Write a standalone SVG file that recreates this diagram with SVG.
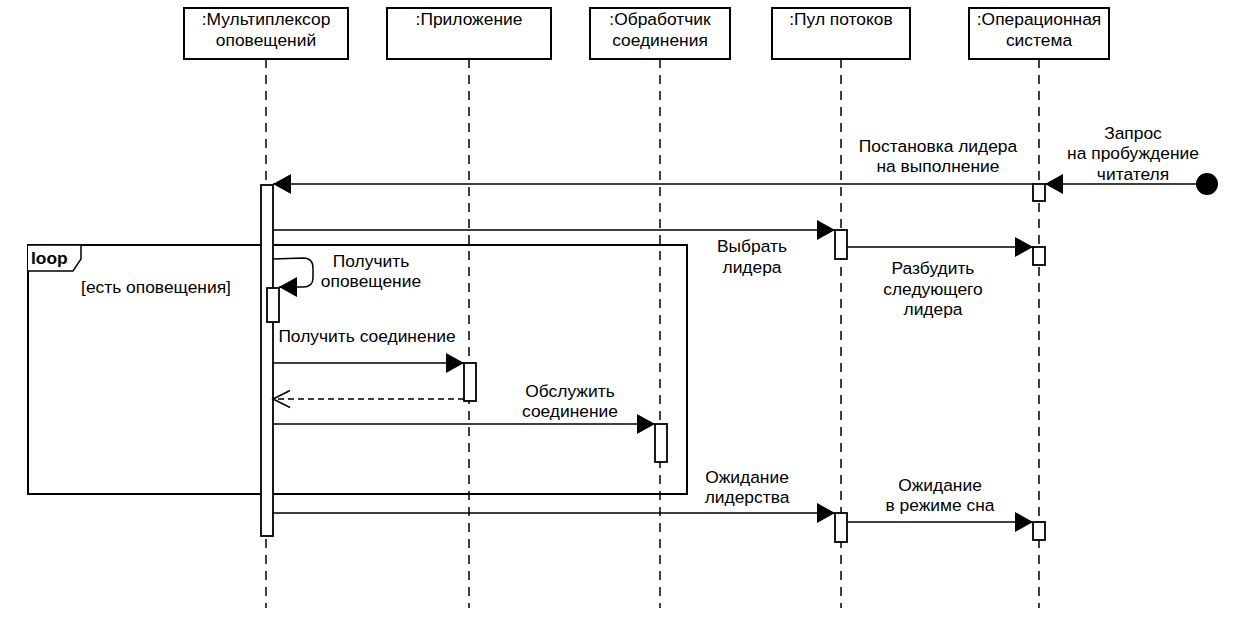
<svg xmlns="http://www.w3.org/2000/svg" width="1255" height="631" viewBox="0 0 1255 631">
<defs>
<style>
text{font-family:"Liberation Sans",Arial,sans-serif;font-size:17.4px;fill:#000;text-anchor:middle}
.box{fill:#fff;stroke:#000;stroke-width:2}
.life{stroke:#000;stroke-width:1.5;stroke-dasharray:9 7;fill:none}
.bar{fill:#fff;stroke:#000;stroke-width:1.8}
.msg{stroke:#000;stroke-width:1.5;fill:none;marker-end:url(#block)}
.ret{stroke:#000;stroke-width:1.5;fill:none;stroke-dasharray:6 4;marker-end:url(#open)}
.frame{fill:none;stroke:#000;stroke-width:2}
</style>
<marker id="block" markerUnits="userSpaceOnUse" viewBox="0 0 18 20" refX="18" refY="10" markerWidth="18" markerHeight="20" orient="auto">
<path d="M0,0 L18,10 L0,20 z" fill="#000"/>
</marker>
<marker id="open" markerUnits="userSpaceOnUse" viewBox="0 0 20 20" refX="18" refY="10" markerWidth="20" markerHeight="20" orient="auto">
<path d="M1,1.5 L18,10 L1,18.5" fill="none" stroke="#000" stroke-width="1.5"/>
</marker>
</defs>
<rect width="1255" height="631" fill="#fff"/>

<g id="lifelines">
<line class="life" x1="266" y1="59" x2="266" y2="608"/>
<line class="life" x1="469" y1="59" x2="469" y2="608"/>
<line class="life" x1="660" y1="59" x2="660" y2="608"/>
<line class="life" x1="841" y1="59" x2="841" y2="608"/>
<line class="life" x1="1039" y1="59" x2="1039" y2="608"/>
</g>

<g id="loop-frame">
<rect class="frame" x="28" y="245" width="659" height="249"/>
<path d="M28,245 L81,245 L81,259 L73,271 L28,271" fill="#fff" stroke="#000" stroke-width="1.5"/>
<text x="31" y="264" style="text-anchor:start;font-weight:bold">loop</text>
<text x="156" y="293">[есть оповещения]</text>
</g>

<g id="node-multiplexer">
<rect class="box" x="184" y="8" width="164" height="51"/>
<text x="266" y="25">:Мультиплексор</text>
<text x="266" y="46">оповещений</text>
<rect class="bar" x="261" y="185" width="12" height="351"/>
<rect class="bar" x="267" y="288" width="12" height="34"/>
</g>

<g id="node-app">
<rect class="box" x="387" y="8" width="164" height="51"/>
<text x="469" y="25">:Приложение</text>
<rect class="bar" x="464" y="363" width="12" height="38"/>
</g>

<g id="node-handler">
<rect class="box" x="590" y="8" width="140" height="51"/>
<text x="660" y="25">:Обработчик</text>
<text x="660" y="46">соединения</text>
<rect class="bar" x="655" y="424" width="12" height="38"/>
</g>

<g id="node-pool">
<rect class="box" x="772" y="8" width="138" height="51"/>
<text x="841" y="25">:Пул потоков</text>
<rect class="bar" x="835" y="230" width="12" height="29"/>
<rect class="bar" x="835" y="513" width="12" height="29"/>
</g>

<g id="node-os">
<rect class="box" x="969" y="8" width="140" height="51"/>
<text x="1039" y="25">:Операционная</text>
<text x="1039" y="46">система</text>
<rect class="bar" x="1033" y="184" width="12" height="17"/>
<rect class="bar" x="1033" y="247" width="12" height="18"/>
<rect class="bar" x="1033" y="522" width="12" height="18"/>
</g>

<g id="connectors">
<circle cx="1207" cy="184" r="11" fill="#000"/>
<line class="msg" x1="1196" y1="184" x2="1045" y2="184"/>
<line class="msg" x1="1033" y1="184" x2="273" y2="184"/>
<line class="msg" x1="273" y1="230" x2="835" y2="230"/>
<line class="msg" x1="847" y1="247" x2="1033" y2="247"/>
<path class="msg" d="M273,259 L303,258 Q313,258 313,268 L313,278 Q313,287 303,287 L279,287"/>
<line class="msg" x1="273" y1="363" x2="464" y2="363"/>
<line class="ret" x1="464" y1="399" x2="273" y2="399"/>
<line class="msg" x1="273" y1="424" x2="655" y2="424"/>
<line class="msg" x1="273" y1="513" x2="835" y2="513"/>
<line class="msg" x1="847" y1="522" x2="1033" y2="522"/>
</g>

<g id="labels">
<text x="1133" y="139">Запрос</text>
<text x="1133" y="159">на пробуждение</text>
<text x="1133" y="180">читателя</text>
<text x="938" y="152">Постановка лидера</text>
<text x="938" y="172">на выполнение</text>
<text x="752" y="252">Выбрать</text>
<text x="752" y="273">лидера</text>
<text x="933" y="274">Разбудить</text>
<text x="933" y="295">следующего</text>
<text x="933" y="315">лидера</text>
<text x="371" y="267">Получить</text>
<text x="371" y="287">оповещение</text>
<text x="367" y="342">Получить соединение</text>
<text x="570" y="397">Обслужить</text>
<text x="570" y="417">соединение</text>
<text x="747" y="483">Ожидание</text>
<text x="747" y="503">лидерства</text>
<text x="940" y="491">Ожидание</text>
<text x="940" y="511">в режиме сна</text>
</g>
</svg>
